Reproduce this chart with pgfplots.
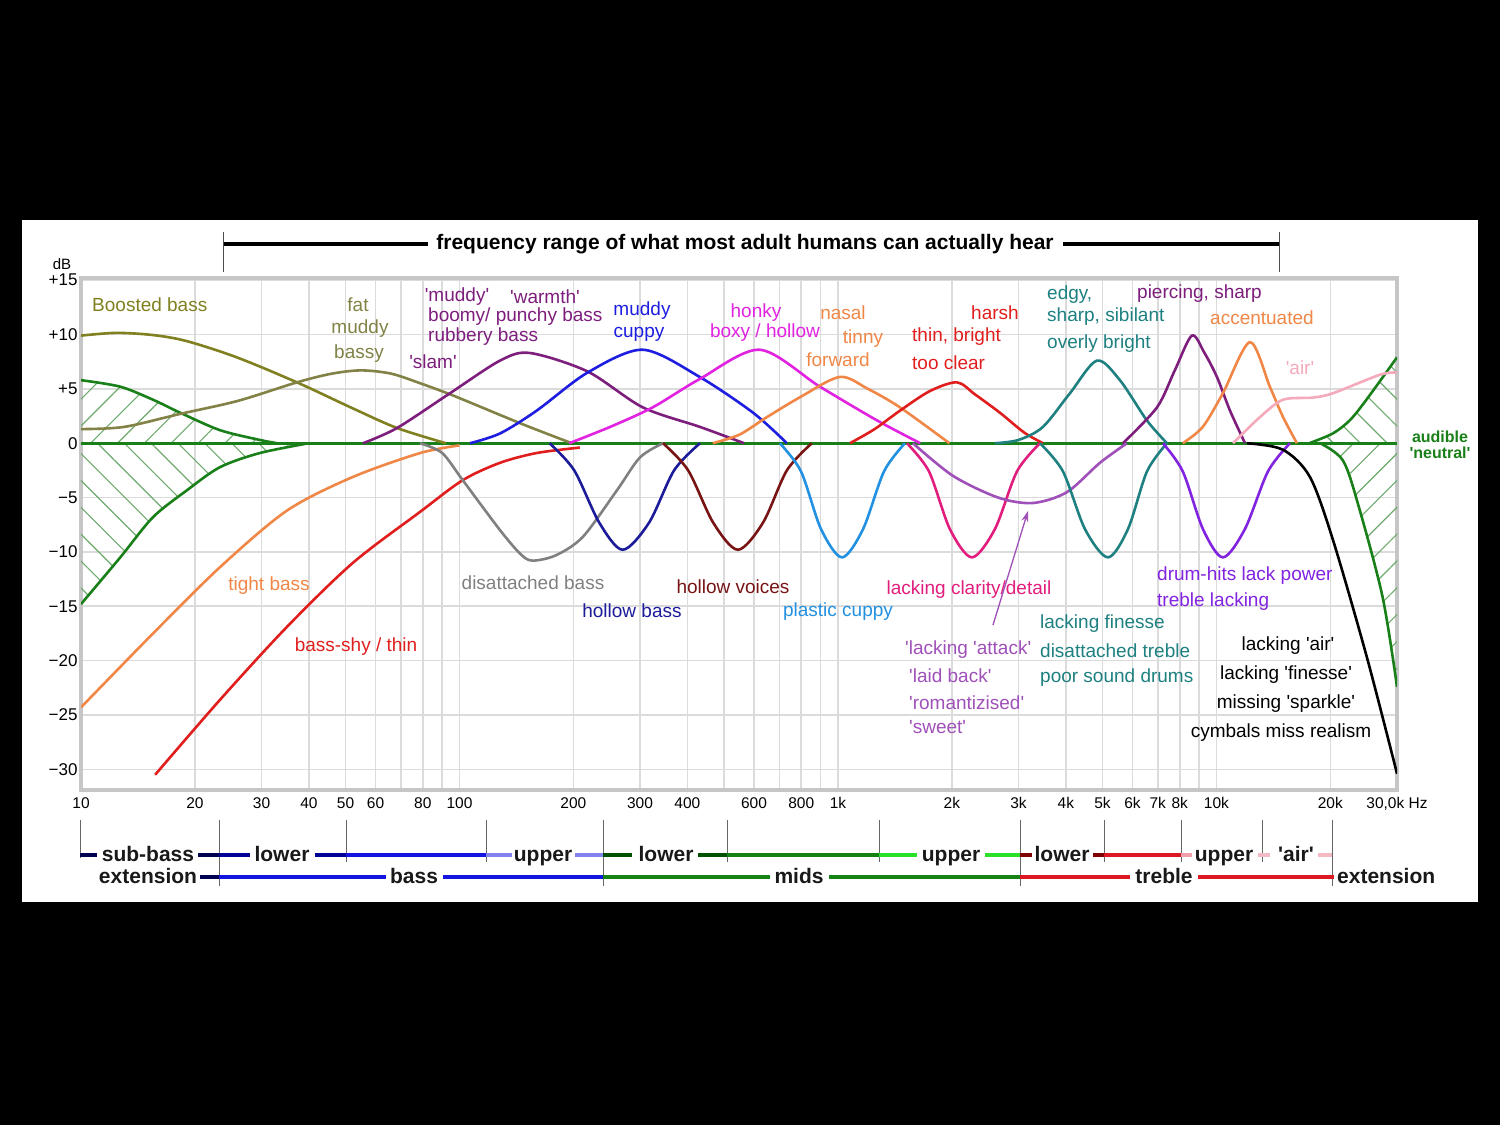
\documentclass[border=0pt]{standalone}
\usepackage{pgfplots}
\pgfplotsset{compat=1.18}
\usepackage{fontspec}
\setmainfont{Liberation Sans}
\usetikzlibrary{patterns.meta,arrows.meta}
\newcommand\q{\textquotesingle}
\definecolor{olA}{RGB}{128,128,32}
\definecolor{olB}{RGB}{130,130,70}
\definecolor{purA}{RGB}{125,30,125}
\definecolor{bluA}{RGB}{30,30,225}
\definecolor{magA}{RGB}{225,35,225}
\definecolor{oraA}{RGB}{240,135,70}
\definecolor{redA}{RGB}{225,30,30}
\definecolor{tealA}{RGB}{30,128,128}
\definecolor{pinkA}{RGB}{244,170,186}
\definecolor{grayA}{RGB}{128,128,128}
\definecolor{navyA}{RGB}{28,28,155}
\definecolor{dredA}{RGB}{120,20,20}
\definecolor{lbluA}{RGB}{35,145,225}
\definecolor{dpinkA}{RGB}{225,30,125}
\definecolor{lilA}{RGB}{160,80,185}
\definecolor{vioA}{RGB}{130,35,225}
\definecolor{grnA}{RGB}{25,128,25}
\definecolor{hatchA}{RGB}{110,170,110}
\definecolor{bnavy}{RGB}{0,0,80}
\definecolor{bnavyB}{RGB}{0,0,150}
\definecolor{bblue}{RGB}{20,20,225}
\definecolor{blblue}{RGB}{130,130,240}
\definecolor{bdgreen}{RGB}{0,80,0}
\definecolor{bgreen}{RGB}{20,130,20}
\definecolor{blgreen}{RGB}{40,225,40}
\definecolor{bdred}{RGB}{128,0,0}
\definecolor{bred}{RGB}{220,25,35}
\definecolor{blpink}{RGB}{240,160,170}
\definecolor{bpink}{RGB}{245,185,195}
\begin{document}
\begin{tikzpicture}[x=1pt,y=1pt,
  lbl/.style={font=\fontsize{19}{21}\selectfont, inner sep=0pt},
  band/.style={font=\bfseries\fontsize{21}{22}\selectfont, inner sep=0pt, anchor=base, text=black!90},
  bl/.style={line width=4.5pt}]
\fill[black] (0,0) rectangle (1500,1125);
\fill[white] (22,223) rectangle (1478,905);
\begin{axis}[
  at={(81pt,335pt)}, anchor=south west,
  width=1316pt, height=512pt, scale only axis,
  xmode=log, xmin=10, xmax=30000, ymin=-31.9, ymax=15.2,
  axis line style={draw=gray!45, line width=3.5pt},
  xtick={10,20,30,40,50,60,80,100,200,300,400,600,800,1000,2000,3000,4000,5000,6000,7000,8000,10000,20000,30000},
  xticklabels={10,20,30,40,50,60,80,100,200,300,400,600,800,1k,2k,3k,4k,5k,6k,7k,8k,10k,20k,{30,0k Hz}},
  minor xtick={70,90,500,700,900,9000},
  ytick={-30,-25,...,15},
  yticklabels={−30,−25,−20,−15,−10,−5,0,+5,+10,+15},
  grid=both,
  major grid style={draw=gray!28, line width=1.6pt},
  minor grid style={draw=gray!28, line width=1.6pt},
  major tick length=0pt, minor tick length=0pt,
  xticklabel style={font=\fontsize{15.5}{16}\selectfont, yshift=-4pt},
  yticklabel style={font=\fontsize{17}{18}\selectfont},
]
% hatched regions
\addplot[draw=none, smooth, pattern={Lines[angle=45,distance=19pt,line width=1.1pt]}, pattern color=hatchA] coordinates {(10,5.8)(12.7,5.2)(15.5,4.0)(18.3,2.8)(23.3,1.2)(29.7,0.3)(33,0)} \closedcycle;
\addplot[draw=none, smooth, pattern={Lines[angle=-45,distance=19pt,line width=1.1pt]}, pattern color=hatchA] coordinates {(10,-14.8)(12.7,-10.5)(15.5,-6.8)(19.1,-4.3)(23.3,-2.2)(29.7,-0.9)(40,0)} \closedcycle;
\addplot[draw=none, smooth, pattern={Lines[angle=-45,distance=19pt,line width=1.1pt]}, pattern color=hatchA] coordinates {(17600,0)(20300,0.9)(22500,2.1)(24900,4.0)(30000,7.9)} \closedcycle;
\addplot[draw=none, smooth, pattern={Lines[angle=45,distance=19pt,line width=1.1pt]}, pattern color=hatchA] coordinates {(18800,0)(21600,-1.6)(23800,-5.9)(27500,-14.2)(30000,-22.4)} \closedcycle;
% neutral line
\addplot[grnA, line width=3pt] coordinates {(10,0)(30000,0)};
% green boundary curves
\addplot[grnA, line width=2.6pt, smooth] coordinates {(10,5.8)(12.7,5.2)(15.5,4.0)(18.3,2.8)(23.3,1.2)(29.7,0.3)(33,0)};
\addplot[grnA, line width=2.6pt, smooth] coordinates {(10,-14.8)(12.7,-10.5)(15.5,-6.8)(19.1,-4.3)(23.3,-2.2)(29.7,-0.9)(40,0)};
\addplot[grnA, line width=2.6pt, smooth] coordinates {(17600,0)(20300,0.9)(22500,2.1)(24900,4.0)(30000,7.9)};
\addplot[grnA, line width=2.6pt, smooth] coordinates {(18800,0)(21600,-1.6)(23800,-5.9)(27500,-14.2)(30000,-22.4)};
% boosts
\addplot[olA, line width=2.6pt, smooth] coordinates {(10,9.9)(12.4,10.15)(15.5,9.95)(19,9.4)(25.8,7.9)(37.2,5.6)(52.3,3.2)(68.4,1.4)(92,0)};
\addplot[olB, line width=2.6pt, smooth] coordinates {(10,1.3)(13,1.5)(18.3,2.7)(26,3.9)(37.2,5.6)(46,6.4)(55,6.7)(66,6.4)(79,5.5)(96,4.4)(128,2.6)(153,1.5)(198,0)};
\addplot[purA, line width=2.6pt, smooth] coordinates {(55.6,0)(68.4,1.4)(94.4,4.6)(128,7.6)(153.6,8.3)(218,6.6)(305,3.3)(432,1.5)(565,0)};
\addplot[bluA, line width=2.6pt, smooth] coordinates {(106.6,0)(128,0.9)(160,3.0)(218,6.5)(305,8.6)(431,6.1)(597,2.8)(733,0)};
\addplot[magA, line width=2.6pt, smooth] coordinates {(195,0)(250,1.5)(324,3.3)(431,5.9)(621,8.6)(896,5.2)(1268,2.1)(1650,0)};
\addplot[oraA, line width=2.6pt, smooth] coordinates {(467,0)(550,0.8)(649,2.4)(800,4.3)(1012,6.1)(1200,5.0)(1458,3.3)(1970,0)};
\addplot[redA, line width=2.6pt, smooth] coordinates {(1076,0)(1250,1.3)(1459,3.0)(1750,4.8)(2062,5.6)(2300,4.5)(2680,2.8)(3100,1.0)(3480,0)};
\addplot[tealA, line width=2.6pt, smooth] coordinates {(2600,0)(3000,0.3)(3480,1.5)(4102,4.6)(4832,7.6)(5559,5.8)(6550,2.1)(7400,0)};
\addplot[purA, line width=2.6pt, smooth] coordinates {(5662,0)(6966,3.3)(7762,6.7)(8615,9.9)(9300,8.3)(10030,6.1)(10860,3.0)(11900,0)};
\addplot[oraA, line width=2.6pt, smooth] coordinates {(8150,0)(9200,1.5)(10400,4.6)(12260,9.3)(13840,5.2)(15000,2.4)(16320,0)};
\addplot[pinkA, line width=2.6pt, smooth] coordinates {(11060,0)(13030,2.4)(14990,4.0)(17990,4.2)(20320,4.6)(27040,6.3)(30000,6.5)};
% cuts
\addplot[oraA, line width=2.6pt, smooth] coordinates {(10,-24.3)(15.5,-17.5)(23.3,-11.4)(35,-6.2)(52.3,-3.1)(78.8,-0.9)(100,-0.2)};
\addplot[redA, line width=2.6pt, smooth] coordinates {(15.7,-30.5)(23.3,-23.6)(35,-16.9)(52.3,-11.0)(78.8,-6.3)(102,-3.4)(128,-1.8)(160,-0.9)(208,-0.4)};
\addplot[grayA, line width=2.6pt, smooth] coordinates {(78.6,0)(90,-0.9)(102,-3.4)(128,-8.0)(145,-10.2)(156,-10.8)(180,-10.3)(212,-8.6)(261,-4.3)(300,-1.3)(345,0)};
\addplot[navyA, line width=2.6pt, smooth] coordinates {(173,0)(201,-2.5)(234,-7.3)(270,-9.8)(317,-7.3)(369,-2.5)(432,0)};
\addplot[dredA, line width=2.6pt, smooth] coordinates {(345,0)(402,-2.5)(468,-7.3)(544,-9.8)(634,-7.3)(733,-2.5)(853,0)};
\addplot[lbluA, line width=2.6pt, smooth] coordinates {(702,0)(799,-2.6)(902,-7.9)(1025,-10.5)(1165,-7.9)(1323,-2.6)(1503,0)};
\addplot[dpinkA, line width=2.6pt, smooth] coordinates {(1521,0)(1740,-2.6)(1976,-7.9)(2259,-10.5)(2598,-7.9)(2971,-2.6)(3418,0)};
\addplot[lilA, line width=2.6pt, smooth] coordinates {(1578,0)(2013,-3.0)(2650,-5.0)(3275,-5.5)(4027,-4.5)(4923,-1.8)(5800,0)};
\addplot[tealA, line width=2.6pt, smooth] coordinates {(3418,0)(3932,-2.6)(4494,-7.9)(5167,-10.5)(5838,-7.9)(6553,-2.6)(7400,0)};
\addplot[vioA, line width=2.6pt, smooth] coordinates {(7222,0)(8150,-2.6)(9212,-7.9)(10400,-10.5)(11890,-7.9)(13680,-2.6)(15640,0)};
\addplot[black, line width=2.6pt, smooth] coordinates {(12040,0)(14990,-0.6)(17660,-3.1)(20320,-8.9)(24980,-19.7)(30000,-30.4)};
\end{axis}
% dB label
\node[font=\fontsize{15}{16}\selectfont, inner sep=0pt] at (62,861) {dB};
% top range marker
\node[font=\bfseries\fontsize{21}{22}\selectfont, inner sep=0pt] at (745,881) {frequency range of what most adult humans can actually hear};
\draw[line width=4pt] (223,881) -- (428,881);
\draw[line width=4pt] (1063,881) -- (1279,881);
\draw[line width=1pt, black!70] (223,893) -- (223,853);
\draw[line width=1pt, black!70] (1279,893) -- (1279,853);
% curve labels
\node[lbl, anchor=west, text=olA] at (92,820) {Boosted bass};
\node[lbl, text=olB] at (358,820) {fat};
\node[lbl, text=olB] at (360,796) {muddy};
\node[lbl, text=olB] at (359,771) {bassy};
\node[lbl, text=purA] at (457,828) {\q muddy\q};
\node[lbl, text=purA] at (545,828) {\q warmth\q};
\node[lbl, anchor=west, text=purA] at (428,808) {boomy/ punchy bass};
\node[lbl, anchor=west, text=purA] at (428,788) {rubbery bass};
\node[lbl, text=purA] at (433,763) {\q slam\q};
\node[lbl, text=bluA] at (642,814) {muddy};
\node[lbl, text=bluA] at (639,791) {cuppy};
\node[lbl, text=magA] at (756,812) {honky};
\node[lbl, text=magA] at (765,792) {boxy / hollow};
\node[lbl, text=oraA] at (843,812) {nasal};
\node[lbl, text=oraA] at (863,786) {tinny};
\node[lbl, text=oraA] at (838,765) {forward};
\node[lbl, text=redA] at (995,812) {harsh};
\node[lbl, anchor=west, text=redA] at (912,788) {thin, bright};
\node[lbl, anchor=west, text=redA] at (912,762) {too clear};
\node[lbl, anchor=west, text=tealA] at (1047,830) {edgy,};
\node[lbl, anchor=west, text=tealA] at (1047,808) {sharp, sibilant};
\node[lbl, anchor=west, text=tealA] at (1047,781) {overly bright};
\node[lbl, anchor=west, text=purA] at (1137,831) {piercing, sharp};
\node[lbl, anchor=west, text=oraA] at (1210,807) {accentuated};
\node[lbl, text=pinkA] at (1300,757) {\q air\q};
\node[font=\bfseries\fontsize{16}{17}\selectfont, inner sep=0pt, text=grnA] at (1440,688) {audible};
\node[font=\bfseries\fontsize{16}{17}\selectfont, inner sep=0pt, text=grnA] at (1440,672) {\q neutral\q};
\node[lbl, text=oraA] at (269,539) {tight bass};
\node[lbl, text=redA] at (356,478) {bass-shy / thin};
\node[lbl, text=grayA] at (533,542) {disattached bass};
\node[lbl, text=navyA] at (632,514) {hollow bass};
\node[lbl, text=dredA] at (733,538) {hollow voices};
\node[lbl, text=lbluA] at (838,513) {plastic cuppy};
\node[lbl, text=dpinkA] at (969,535) {lacking clarity/detail};
\node[lbl, anchor=west, text=lilA] at (905,475) {\q lacking \q attack\q};
\node[lbl, anchor=west, text=lilA] at (909,449) {\q laid back\q};
\node[lbl, anchor=west, text=lilA] at (909,422) {\q romantizised\q};
\node[lbl, anchor=west, text=lilA] at (909,398) {\q sweet\q};
\draw[lilA, line width=1.3pt, -{Stealth[length=11pt,width=7pt]}] (993,500) -- (1028,614);
\node[lbl, anchor=west, text=tealA] at (1040,501) {lacking finesse};
\node[lbl, anchor=west, text=tealA] at (1040,474) {disattached treble};
\node[lbl, anchor=west, text=tealA] at (1040,447) {poor sound drums};
\node[lbl, anchor=west, text=vioA] at (1157,549) {drum-hits lack power};
\node[lbl, anchor=west, text=vioA] at (1157,523) {treble lacking};
\node[lbl] at (1288,479) {lacking \q air\q};
\node[lbl] at (1286,450) {lacking \q finesse\q};
\node[lbl] at (1286,421) {missing \q sparkle\q};
\node[lbl] at (1281,392) {cymbals miss realism};
% bottom band: separators
\foreach \xx in {346,486,727,879,1104,1181,1262} {\draw[line width=1pt, black!60] (\xx,305) -- (\xx,263);}
\foreach \xx in {219,603,1020,1332} {\draw[line width=1pt, black!60] (\xx,305) -- (\xx,239);}
\draw[line width=1pt, black!60] (80,305) -- (80,267);
% row 1
\draw[bl, bnavy] (80,270) -- (97,270);
\draw[bl, bnavy] (198,270) -- (219,270);
\draw[bl, bnavyB] (219,270) -- (250,270);
\draw[bl, bnavyB] (315,270) -- (346,270);
\draw[bl, bblue] (346,270) -- (486,270);
\draw[bl, blblue] (486,270) -- (512,270);
\draw[bl, blblue] (575,270) -- (603,270);
\draw[bl, bdgreen] (603,270) -- (632,270);
\draw[bl, bdgreen] (698,270) -- (727,270);
\draw[bl, bgreen] (727,270) -- (879,270);
\draw[bl, blgreen] (879,270) -- (917,270);
\draw[bl, blgreen] (985,270) -- (1020,270);
\draw[bl, bdred] (1020,270) -- (1032,270);
\draw[bl, bdred] (1093,270) -- (1104,270);
\draw[bl, bred] (1104,270) -- (1181,270);
\draw[bl, blpink] (1181,270) -- (1192,270);
\draw[bl, bpink] (1258,270) -- (1270,270);
\draw[bl, bpink] (1318,270) -- (1332,270);
\node[band] at (148,263) {sub-bass};
\node[band] at (282,263) {lower};
\node[band] at (543,263) {upper};
\node[band] at (666,263) {lower};
\node[band] at (951,263) {upper};
\node[band] at (1062,263) {lower};
\node[band] at (1224,263) {upper};
\node[band] at (1296,263) {\q air\q};
% row 2
\draw[bl, bnavy] (200,248) -- (219,248);
\draw[bl, bblue] (219,248) -- (386,248);
\draw[bl, bblue] (443,248) -- (603,248);
\draw[bl, bgreen] (603,248) -- (770,248);
\draw[bl, bgreen] (829,248) -- (1020,248);
\draw[bl, bred] (1020,248) -- (1130,248);
\draw[bl, bred] (1198,248) -- (1334,248);
\node[band] at (148,241) {extension};
\node[band] at (414,241) {bass};
\node[band] at (799,241) {mids};
\node[band] at (1164,241) {treble};
\node[band, anchor=base west] at (1337,241) {extension};
\end{tikzpicture}
\end{document}
